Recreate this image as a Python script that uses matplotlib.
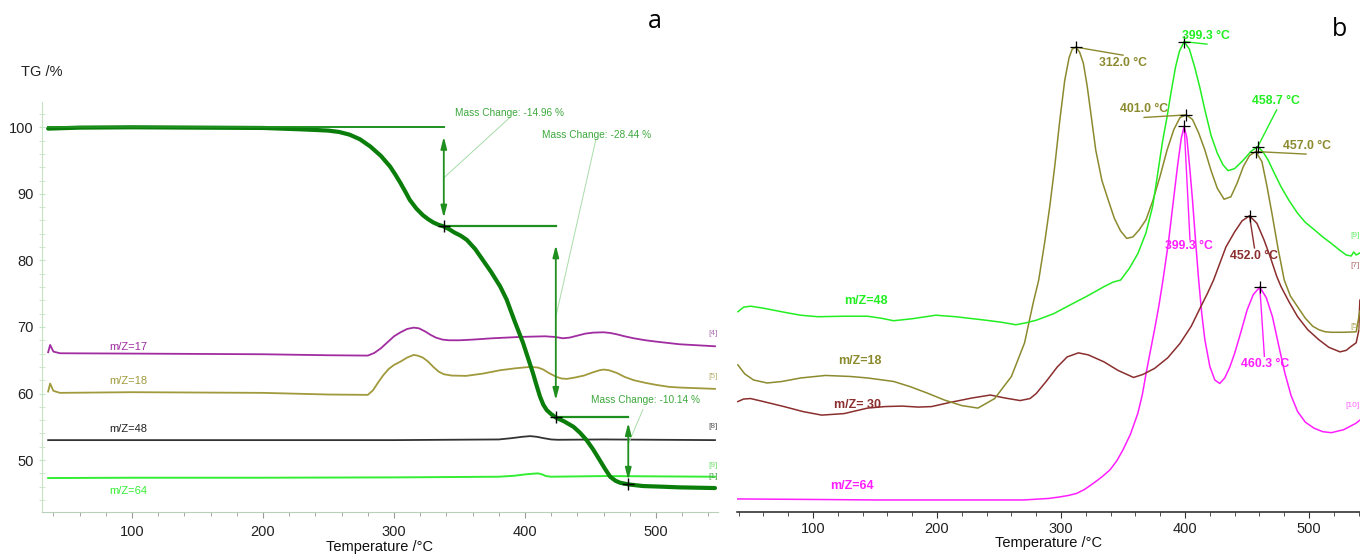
import matplotlib
matplotlib.use('Agg')
import matplotlib.pyplot as plt
from matplotlib.ticker import MultipleLocator

plt.rcParams['font.family'] = ['Liberation Sans Narrow', 'Liberation Sans', 'DejaVu Sans']

# ---------------- panel a : TG + MS (scaled) ----------------
tg_T = [36, 60, 100, 150, 200, 228, 240, 250, 258, 266, 274, 282, 290, 297, 301, 305, 309,
        312, 317, 322, 326, 330, 334, 338, 342, 346, 351, 355.5, 362, 368, 374, 381, 386,
        392, 398.5, 402, 406, 409, 411.5, 414, 416.6, 420, 423.5, 430, 437, 442, 447, 452,
        457, 461, 465, 469, 472.5, 478.8, 490, 505, 518, 545]
tg_v = [99.8, 99.95, 100.0, 99.95, 99.9, 99.7, 99.6, 99.5, 99.3, 98.9, 98.2, 97.1, 95.7,
        94.1, 92.9, 91.6, 90.2, 89.1, 87.8, 86.8, 86.2, 85.7, 85.35, 85.1, 84.7, 84.2, 83.7,
        83.1, 81.7, 80.0, 78.3, 76.1, 74.1, 70.9, 67.6, 65.5, 63.1, 61.1, 59.5, 58.3, 57.5,
        56.9, 56.4, 55.8, 55.0, 54.1, 53.0, 51.6, 50.0, 48.7, 47.5, 46.9, 46.6, 46.35, 46.1,
        46.0, 45.9, 45.8]

a17_T = [36, 37.5, 40, 45, 100, 200, 250, 280, 285, 290, 295, 300, 305, 310, 315, 319, 324,
         328, 332, 337, 342, 350, 360, 375, 396, 415, 423, 429, 434, 440, 446, 452, 460, 465,
         470, 476, 483, 492, 500, 518, 545]
a17_v = [66.2, 67.3, 66.3, 66.05, 66.0, 65.9, 65.75, 65.7, 66.1, 66.8, 67.7, 68.6, 69.2,
         69.7, 69.9, 69.8, 69.3, 68.8, 68.4, 68.1, 68.0, 68.0, 68.1, 68.3, 68.5, 68.6, 68.5,
         68.3, 68.4, 68.7, 69.0, 69.15, 69.2, 69.1, 68.9, 68.6, 68.3, 68.0, 67.8, 67.4, 67.1]

a18_T = [36, 37.5, 40, 45, 100, 200, 250, 280, 284, 288, 292, 296, 300, 305, 310, 315, 318,
         322, 326, 330, 334, 338, 344, 355, 368, 381, 393, 404, 410, 414, 418, 424, 428, 432,
         438, 445, 452, 457, 460, 464, 470, 476, 483, 492, 500, 510, 518, 545]
a18_v = [60.3, 61.5, 60.4, 60.1, 60.2, 60.1, 59.85, 59.8, 60.5, 61.7, 62.8, 63.7, 64.3,
         64.8, 65.4, 65.8, 65.7, 65.4, 64.8, 64.0, 63.3, 62.9, 62.7, 62.65, 63.0, 63.5, 63.8,
         64.0, 63.9, 63.6, 63.1, 62.5, 62.25, 62.2, 62.4, 62.7, 63.2, 63.5, 63.6, 63.5, 63.1,
         62.5, 62.0, 61.6, 61.3, 61.0, 60.9, 60.7]

a48_T = [36, 100, 200, 300, 380, 390, 398, 404, 409, 414, 420, 425, 460, 545]
a48_v = [53.0, 53.0, 53.0, 53.0, 53.1, 53.3, 53.5, 53.6, 53.5, 53.3, 53.1, 53.05, 53.1, 53.0]

a64_T = [36, 100, 200, 300, 380, 392, 400, 406, 410, 413, 416, 420, 460, 545]
a64_v = [47.3, 47.35, 47.35, 47.4, 47.5, 47.65, 47.85, 47.95, 48.0, 47.85, 47.6, 47.5, 47.6, 47.5]

# mass-change evaluation points (temperature, TG level)
step_T = [338, 423.5, 478.8]
step_v = [85.1, 56.5, 46.4]
step_start_v = [100.0, 85.1, 56.5]
mass_change = ['-14.96', '-28.44', '-10.14']

# ---------------- panel b : MS ion currents (a.u.) ----------------
b18_T = [39.4, 45, 52, 63, 75, 90, 110, 130, 144, 165, 178, 192, 206, 220, 233, 246.5, 260,
         270.6, 277.5, 282, 287, 291, 295, 299, 303, 306.5, 309, 312, 315, 318, 321, 324,
         328, 333, 338, 343, 348, 353, 358, 363, 368.5, 374, 380, 385.5, 391, 396, 401, 406,
         411, 416, 421, 426, 431.5, 437, 442, 447, 452, 457, 462, 466, 470, 475, 480, 485,
         491, 497, 503, 508, 513, 518, 528, 538, 541]
b18_v = [29.3, 27.5, 26.3, 25.7, 26.0, 26.7, 27.2, 27.0, 26.7, 26.0, 25.0, 23.7, 22.3,
         21.2, 20.7, 22.6, 27.0, 33.7, 41.6, 46.2, 54.0, 61.0, 69.0, 78.0, 86.0, 90.5, 92.2,
         92.6, 91.6, 89.4, 85.0, 79.5, 72.1, 66.0, 62.2, 58.5, 56.0, 54.5, 54.8, 56.2, 58.2,
         62.0, 67.0, 72.1, 76.2, 78.6, 79.1, 78.2, 75.5, 72.1, 68.0, 64.5, 62.3, 62.8, 65.5,
         68.8, 71.0, 71.8, 69.8, 65.0, 59.6, 52.5, 46.2, 43.0, 40.8, 38.6, 37.0, 36.3, 35.9,
         35.8, 35.8, 35.9, 40.0]

b48_T = [39.5, 44, 49.6, 60, 76.6, 90, 104, 125, 144, 155, 165, 180, 199, 215, 239.5, 252,
         263.5, 272, 280, 294, 307, 321, 334.7, 342, 348, 355, 362, 368.5, 374, 378.8, 382,
         385.5, 389, 392.4, 395.5, 399.3, 403.5, 407.7, 412, 416, 421, 426, 430.5, 434.7,
         440, 447, 453, 458.7, 463, 467, 472, 477.4, 484, 490.8, 497, 504.4, 511, 518, 524,
         530, 534, 536, 538, 541]
b48_v = [39.9, 40.8, 41.0, 40.6, 39.8, 39.2, 38.9, 39.0, 39.0, 38.6, 38.1, 38.5, 39.2,
         38.9, 38.2, 37.8, 37.3, 37.7, 38.2, 39.5, 41.2, 43.0, 44.9, 45.8, 46.2, 48.5, 51.5,
         55.6, 61.0, 68.8, 74.0, 78.7, 84.0, 88.7, 91.8, 93.7, 92.2, 88.7, 84.5, 80.1, 75.0,
         71.5, 69.2, 68.0, 68.4, 70.1, 71.8, 72.8, 71.7, 70.1, 67.5, 64.8, 62.0, 59.5, 57.7,
         56.2, 54.8, 53.5, 52.3, 51.2, 51.0, 51.8, 51.2, 51.6]

b30_T = [39.4, 44, 49.6, 60, 76.6, 92, 107, 125, 144, 158, 171.7, 185, 195.6, 210, 228,
         243, 255, 267, 275, 280, 288, 297, 305, 314, 322, 334.7, 346, 358.5, 366, 375.4,
         386, 396, 405, 412.7, 418, 423, 433, 440, 446, 452, 458, 463.7, 469, 474, 477.4,
         484, 490.8, 499, 508, 516, 525, 530, 534, 538, 540, 541]
b30_v = [22.0, 22.5, 22.6, 22.0, 21.0, 20.0, 19.3, 19.6, 20.7, 21.0, 21.1, 20.9, 21.0,
         21.8, 22.7, 23.3, 22.7, 22.2, 22.6, 23.6, 26.0, 28.9, 30.9, 31.7, 31.3, 29.9, 28.2,
         26.8, 27.4, 28.6, 30.7, 33.6, 37.0, 40.9, 43.5, 46.2, 52.8, 55.8, 58.0, 59.0, 57.5,
         54.2, 50.6, 46.9, 44.9, 41.8, 38.9, 36.3, 34.3, 32.8, 31.9, 32.2, 33.0, 33.7, 36.0,
         42.2]

b64_T = [39, 100, 150, 200, 270, 290, 299, 306, 312.6, 319, 326, 333, 339.5, 345, 350, 356,
         362, 365.5, 368.6, 372, 375.4, 379, 382.2, 386.5, 390.7, 394, 397, 399.3, 401.5,
         404, 406, 408.5, 411, 413.5, 416, 420, 424, 428, 432, 436, 440, 445, 450, 455,
         460.3, 465.5, 470.5, 475.5, 480.6, 485.5, 490.8, 497, 504, 511, 518, 528, 538, 541]
b64_v = [2.6, 2.5, 2.4, 2.4, 2.4, 2.7, 3.0, 3.3, 3.7, 4.5, 5.7, 7.0, 8.4, 10.2, 12.4, 15.5,
         19.7, 23.3, 27.6, 32.0, 36.3, 41.2, 46.2, 53.5, 62.2, 69.0, 74.5, 76.8, 74.5, 68.0,
         62.2, 54.0, 46.2, 39.5, 34.3, 29.0, 26.3, 25.6, 26.7, 28.8, 31.6, 35.8, 40.2, 43.3,
         44.8, 42.7, 38.9, 33.2, 27.6, 23.2, 20.0, 17.9, 16.7, 16.0, 15.8, 16.4, 17.7, 18.3]

# peak labels
peak_T = [312.0, 399.3, 401.0, 399.3, 458.7, 457.0, 452.0, 460.3]
peak_v = [92.6, 93.7, 79.1, 76.8, 72.8, 71.8, 59.0, 44.8]
peak_lbl_T = [350, 417, 367, 403, 473.4, 498.4, 455.6, 464.5]
peak_lbl_v = [89.4, 94.8, 80.2, 53.0, 81.9, 72.9, 50.9, 29.5]
peak_lead_T = [350, 417.7, 367, 404, 473.9, 497.6, 456, 464]
peak_lead_v = [91.0, 93.2, 78.6, 54.2, 80.1, 71.3, 52.6, 31.0]

C_TG = '#0a7d0a'
C_ANN = '#1f8f1f'
C_ANNTXT = '#3ea83e'
C_17 = '#a02ca0'
C_18 = '#a09a3c'
C_48a = '#333333'
C_64a = '#33ee33'
C_OL = '#8c8a2e'
C_GR = '#22ee22'
C_BR = '#8b2e2e'
C_MG = '#ff1eff'

fig = plt.figure(figsize=(13.6, 5.55), dpi=100)
W, H = 1360.0, 555.0
axa = fig.add_axes([42 / W, 43 / H, 676 / W, 410 / H])
axb = fig.add_axes([737 / W, 43 / H, 623 / W, 502 / H])

# ---- panel a ----
axa.set_xlim(31.3, 547.3)
axa.set_ylim(42.2, 103.8)
for s in ['top', 'right']:
    axa.spines[s].set_visible(False)
axa.spines['left'].set_color('#c4e4c4')
axa.spines['bottom'].set_color('#b8cfb8')
axa.set_xticks([100, 200, 300, 400, 500])
axa.xaxis.set_minor_locator(MultipleLocator(20))
axa.set_yticks([50, 60, 70, 80, 90, 100])
axa.yaxis.set_minor_locator(MultipleLocator(2))
axa.tick_params(axis='x', which='both', direction='out', colors='#999999',
                labelcolor='#222222', labelsize=10.5, pad=5)
axa.tick_params(axis='x', which='major', length=4)
axa.tick_params(axis='x', which='minor', length=3)
axa.tick_params(axis='y', which='both', direction='inout', colors='#c4e4c4',
                labelcolor='#222222', labelsize=10.5, pad=4, length=4)

axa.plot(a17_T, a17_v, color=C_17, lw=1.3)
axa.plot(a18_T, a18_v, color=C_18, lw=1.3)
axa.plot(a48_T, a48_v, color=C_48a, lw=1.3)
axa.plot(a64_T, a64_v, color=C_64a, lw=1.4)
axa.plot(tg_T, tg_v, color=C_TG, lw=3.0, solid_capstyle='round', solid_joinstyle='round')

# horizontal reference lines
axa.plot([tg_T[0], step_T[0]], [step_start_v[0]] * 2, color=C_ANN, lw=1.4)
axa.plot([step_T[0], step_T[1]], [step_v[0]] * 2, color=C_ANN, lw=1.6)
axa.plot([step_T[1], step_T[2]], [step_v[1]] * 2, color=C_ANN, lw=1.6)
arrow_span = [(98.6, 86.4), (82.3, 59.0), (55.6, 47.0)]
for xT, (v0, v1) in zip(step_T, arrow_span):
    axa.annotate('', xy=(xT, v1), xytext=(xT, v0),
                 arrowprops=dict(arrowstyle='<|-|>,head_length=0.7,head_width=0.18',
                                 color=C_ANN, lw=1.3, shrinkA=0, shrinkB=0))
axa.plot(step_T, step_v, ls='none', marker='+', color='black', ms=9, mew=1.0)

# Mass change labels with leader lines
mc_txt_T = [346.6, 413, 450]
mc_txt_v = [102.2, 98.8, 59.1]
lead_from = [(388, 101.4), (454, 98.1), (490, 57.6)]
lead_to = [(338, 92.4), (423.5, 71.5), (479, 52.5)]
for t, x, y, (fx, fy), (tx, ty) in zip(mass_change, mc_txt_T, mc_txt_v, lead_from, lead_to):
    axa.text(x, y, f'Mass Change: {t} %', color=C_ANNTXT, fontsize=7.3,
             ha='left', va='center')
    axa.plot([fx, tx], [fy, ty], color='#a8dca8', lw=0.7)

# curve names
name_T = 97.0
axa.text(name_T, 67.0, 'm/Z=17', color=C_17, fontsize=8, ha='center', va='center')
axa.text(name_T, 61.9, 'm/Z=18', color=C_18, fontsize=8, ha='center', va='center')
axa.text(name_T, 54.7, 'm/Z=48', color='#222222', fontsize=8, ha='center', va='center')
axa.text(name_T, 45.4, 'm/Z=64', color=C_64a, fontsize=8, ha='center', va='center')
end_lbl = ['[4]', '[5]', '[8]', '[9]', '[1]']
end_v = [68.95, 62.5, 55.0, 49.25, 47.5]
end_c = ['#b070b0', '#b8b070', '#555555', '#70e070', '#50a050']
for t, v, c in zip(end_lbl, end_v, end_c):
    axa.text(543.5, v, t, color=c, fontsize=6, ha='center', va='center', clip_on=False)

axa.set_xlabel('Temperature /°C', fontsize=10.5, labelpad=1, color='#111111')

# ---- panel b ----
axb.set_xlim(38.7, 541.1)
axb.set_ylim(0, 100)
for s in ['top', 'right', 'left']:
    axb.spines[s].set_visible(False)
axb.spines['bottom'].set_color('#222222')
axb.spines['bottom'].set_linewidth(1.1)
axb.set_yticks([])
axb.set_xticks([100, 200, 300, 400, 500])
axb.xaxis.set_minor_locator(MultipleLocator(20))
axb.tick_params(axis='x', which='both', direction='out', colors='#333333',
                labelcolor='#222222', labelsize=10.5, pad=3.5)
axb.tick_params(axis='x', which='major', length=4)
axb.tick_params(axis='x', which='minor', length=3)

axb.plot(b64_T, b64_v, color=C_MG, lw=1.1)
axb.plot(b30_T, b30_v, color=C_BR, lw=1.1)
axb.plot(b18_T, b18_v, color=C_OL, lw=1.1)
axb.plot(b48_T, b48_v, color=C_GR, lw=1.1)

peak_col = [C_OL, C_GR, C_OL, C_MG, C_GR, C_OL, C_BR, C_MG]
for pT, pv, lT, lv, eT, ev, c in zip(peak_T, peak_v, peak_lbl_T, peak_lbl_v,
                                      peak_lead_T, peak_lead_v, peak_col):
    axb.plot([pT, eT], [pv, ev], color=c, lw=1.0)
    axb.text(lT, lv, f'{pT:.1f} °C', color=c, fontsize=8.8, fontweight='bold',
             ha='center', va='center')
axb.plot(peak_T, peak_v, ls='none', marker='+', color='black', ms=9, mew=0.9)

lbl_b_T = [142.3, 137.5, 135.8, 131]
lbl_b_v = [42.0, 30.1, 21.3, 5.2]
lbl_b_t = ['m/Z=48', 'm/Z=18', 'm/Z= 30', 'm/Z=64']
lbl_b_c = [C_GR, C_OL, C_BR, C_MG]
for x, y, t, c in zip(lbl_b_T, lbl_b_v, lbl_b_t, lbl_b_c):
    axb.text(x, y, t, color=c, fontsize=9, fontweight='bold', ha='center', va='center')

rb_lbl = ['[9]', '[7]', '[5]', '[10]']
rb_v = [55.0, 49.2, 37.0, 21.3]
rb_c = ['#66ee66', '#b07070', '#b0a860', '#ff66ff']
for t, v, c in zip(rb_lbl, rb_v, rb_c):
    axb.text(541.0, v, t, color=c, fontsize=6, ha='right', va='center', clip_on=False)

axb.set_xlabel('Temperature /°C', fontsize=10.5, labelpad=0, color='#111111')

fig.text(655 / W, 1 - 22 / H, 'a', fontsize=18, family=['Open Sans', 'DejaVu Sans'],
         ha='center', va='center')
fig.text(1340 / W, 1 - 30 / H, 'b', fontsize=18, family=['Open Sans', 'DejaVu Sans'],
         ha='center', va='center')
fig.text(42 / W, 1 - 72 / H, 'TG /%', fontsize=10.5, ha='center', va='center', color='#222222')

fig.savefig('out.png', dpi=100)
